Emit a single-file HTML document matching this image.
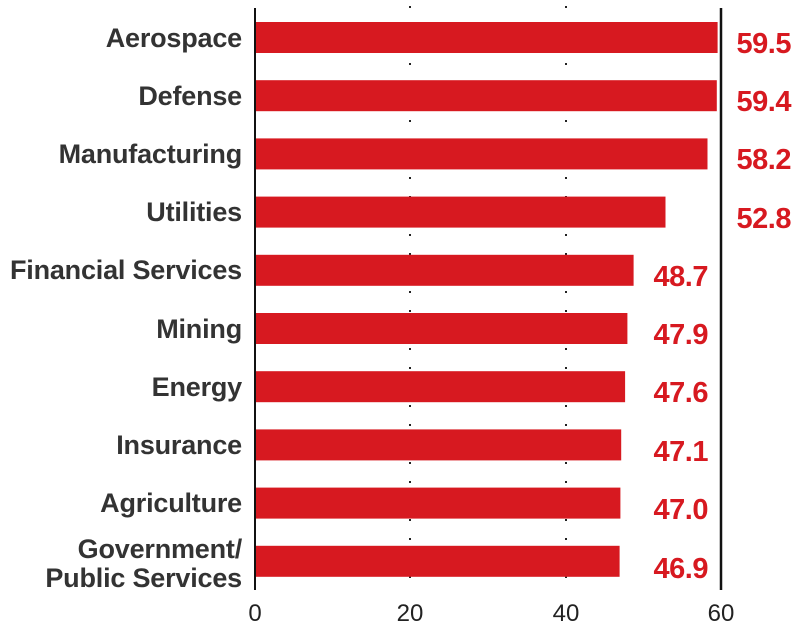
<!DOCTYPE html>
<html><head><meta charset="utf-8"><style>
body{margin:0;background:#fff;}
svg{display:block}
.l{font:bold 27px "Liberation Sans",sans-serif;fill:#333;text-anchor:end;letter-spacing:-0.2px}
.v{font:bold 29px "Liberation Sans",sans-serif;fill:#d71920;text-anchor:end;letter-spacing:-0.5px}
.t{font:24px "Liberation Sans",sans-serif;fill:#222;text-anchor:middle}
</style></head><body>
<svg width="800" height="636" viewBox="0 0 800 636">
<line x1="410" y1="6" x2="410" y2="590" stroke="#222" stroke-width="2" stroke-dasharray="2,17"/>
<line x1="566" y1="6" x2="566" y2="590" stroke="#222" stroke-width="2" stroke-dasharray="2,17"/>
<g fill="#d71920">
<rect x="255" y="22" width="462.6" height="31"/>
<rect x="255" y="80.2" width="461.8" height="31"/>
<rect x="255" y="138.4" width="452.5" height="31"/>
<rect x="255" y="196.6" width="410.5" height="31"/>
<rect x="255" y="254.8" width="378.6" height="31"/>
<rect x="255" y="313" width="372.4" height="31"/>
<rect x="255" y="371.2" width="370.1" height="31"/>
<rect x="255" y="429.4" width="366.2" height="31"/>
<rect x="255" y="487.6" width="365.4" height="31"/>
<rect x="255" y="545.8" width="364.6" height="31"/>
</g>
<line x1="255" y1="8" x2="255" y2="590" stroke="#111" stroke-width="2"/>
<line x1="721" y1="8" x2="721" y2="590" stroke="#111" stroke-width="2.5"/>
<text class="l" x="242" y="47">Aerospace</text>
<text class="l" x="242" y="105">Defense</text>
<text class="l" x="242" y="163">Manufacturing</text>
<text class="l" x="242" y="221">Utilities</text>
<text class="l" x="242" y="279">Financial Services</text>
<text class="l" x="242" y="338">Mining</text>
<text class="l" x="242" y="396">Energy</text>
<text class="l" x="242" y="454">Insurance</text>
<text class="l" x="242" y="512">Agriculture</text>
<text class="l" x="242" y="558">Government/</text>
<text class="l" x="242" y="587">Public Services</text>
<text class="v" x="791" y="53">59.5</text>
<text class="v" x="791" y="111">59.4</text>
<text class="v" x="791" y="169">58.2</text>
<text class="v" x="791" y="228">52.8</text>
<text class="v" x="708" y="286">48.7</text>
<text class="v" x="708" y="344">47.9</text>
<text class="v" x="708" y="402">47.6</text>
<text class="v" x="708" y="461">47.1</text>
<text class="v" x="708" y="519">47.0</text>
<text class="v" x="708" y="578">46.9</text>
<text class="t" x="255" y="621">0</text>
<text class="t" x="410" y="621">20</text>
<text class="t" x="566" y="621">40</text>
<text class="t" x="721" y="621">60</text>
</svg>
</body></html>
